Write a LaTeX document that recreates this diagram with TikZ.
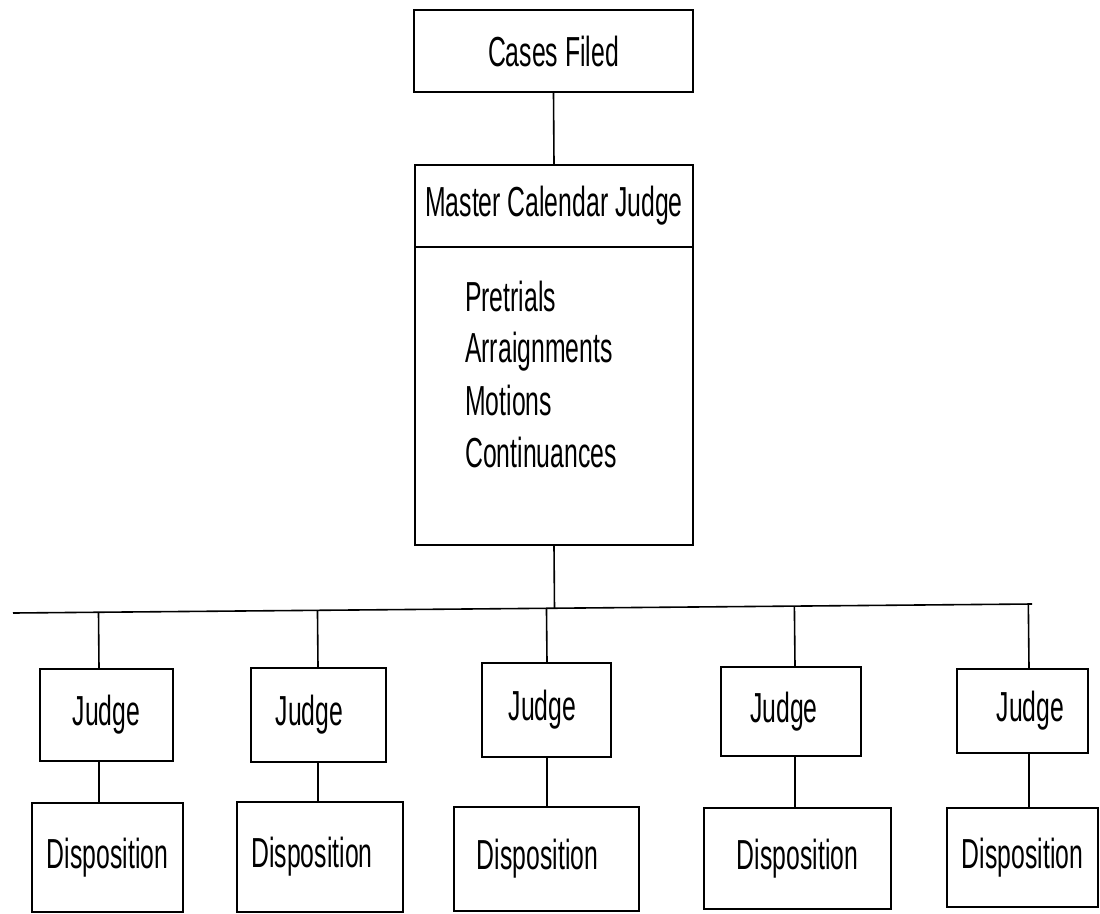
\documentclass[tikz,border=0pt]{standalone}
\usepackage{fontspec}
\newfontfamily\chartfont{Liberation Sans}[FakeStretch=0.59]
\usetikzlibrary{calc}
\begin{document}
\begin{tikzpicture}[x=1pt,y=-1pt,
  box/.style={draw=black, line width=2pt, rectangle, inner sep=2pt,
    font=\chartfont\fontsize{42}{50}\selectfont},
  link/.style={draw=black, line width=1.6pt},
  item/.style={anchor=base west, inner sep=0pt,
    font=\chartfont\fontsize{42}{50}\selectfont}]
\useasboundingbox (0,0) rectangle (1100,913);
\fill[white] (0,0) rectangle (1100,913);

% top of the chart
\node[box, minimum width=279pt, minimum height=82pt] (cf) at (553.5,51) {Cases Filed};
\node[box, minimum width=278pt, minimum height=82pt] (mcj) at (554,206) {Master Calendar Judge};
\node[box, minimum width=278pt, minimum height=298pt] (duties) at (554,396) {};
\node[item] (l1) at (465,311) {Pretrials};
\node[item] (l2) at (465,362) {Arraignments};
\node[item] (l3) at (465,415) {Motions};
\node[item] (l4) at (465,467) {Continuances};

% judges
\node[box, minimum width=133pt, minimum height=92pt] (j1) at (106.5,715) {Judge};
\node[box, minimum width=135pt, minimum height=94pt] (j2) at (318.5,715) {Judge\hspace*{18pt}};
\node[box, minimum width=129pt, minimum height=94pt] (j3) at (546.5,710) {Judge\hspace*{8pt}};
\node[box, minimum width=140pt, minimum height=89pt] (j4) at (791,711.5) {Judge\hspace*{14pt}};
\node[box, minimum width=131pt, minimum height=84pt] (j5) at (1022.5,711) {\hspace*{16pt}Judge};

% dispositions
\node[box, minimum width=151pt, minimum height=109pt] (d1) at (107.5,857.5) {Disposition};
\node[box, minimum width=166pt, minimum height=110pt] (d2) at (320,857) {\raisebox{8pt}{Disposition}\hspace*{16pt}};
\node[box, minimum width=185pt, minimum height=104pt] (d3) at (546.5,859) {Disposition\hspace*{18pt}};
\node[box, minimum width=187pt, minimum height=101pt] (d4) at (797.5,858.5) {\raisebox{6pt}{Disposition}};
\node[box, minimum width=151pt, minimum height=99pt] (d5) at (1022.5,857.5) {Disposition};

% connectors
\draw[link] (cf.south) -- (mcj.north);
\coordinate (busL) at (13,613);
\coordinate (busR) at (1032,604);
\draw[link] (busL) -- (busR);
\draw[link] (duties.south) -- ($(busL)!(duties.south)!(busR)$);

\coordinate (c1) at (99,0);
\coordinate (c2) at (318,0);
\coordinate (c3) at (547,0);
\coordinate (c4) at (795,0);
\coordinate (c5) at (1029,0);
\foreach \i in {1,...,5} {
  \coordinate (t\i) at (j\i.north -| c\i);
  \draw[link] ($(busL)!(t\i)!(busR)$) -- (t\i);
  \draw[link] (j\i.south -| c\i) -- (d\i.north -| c\i);
}
\end{tikzpicture}
\end{document}
